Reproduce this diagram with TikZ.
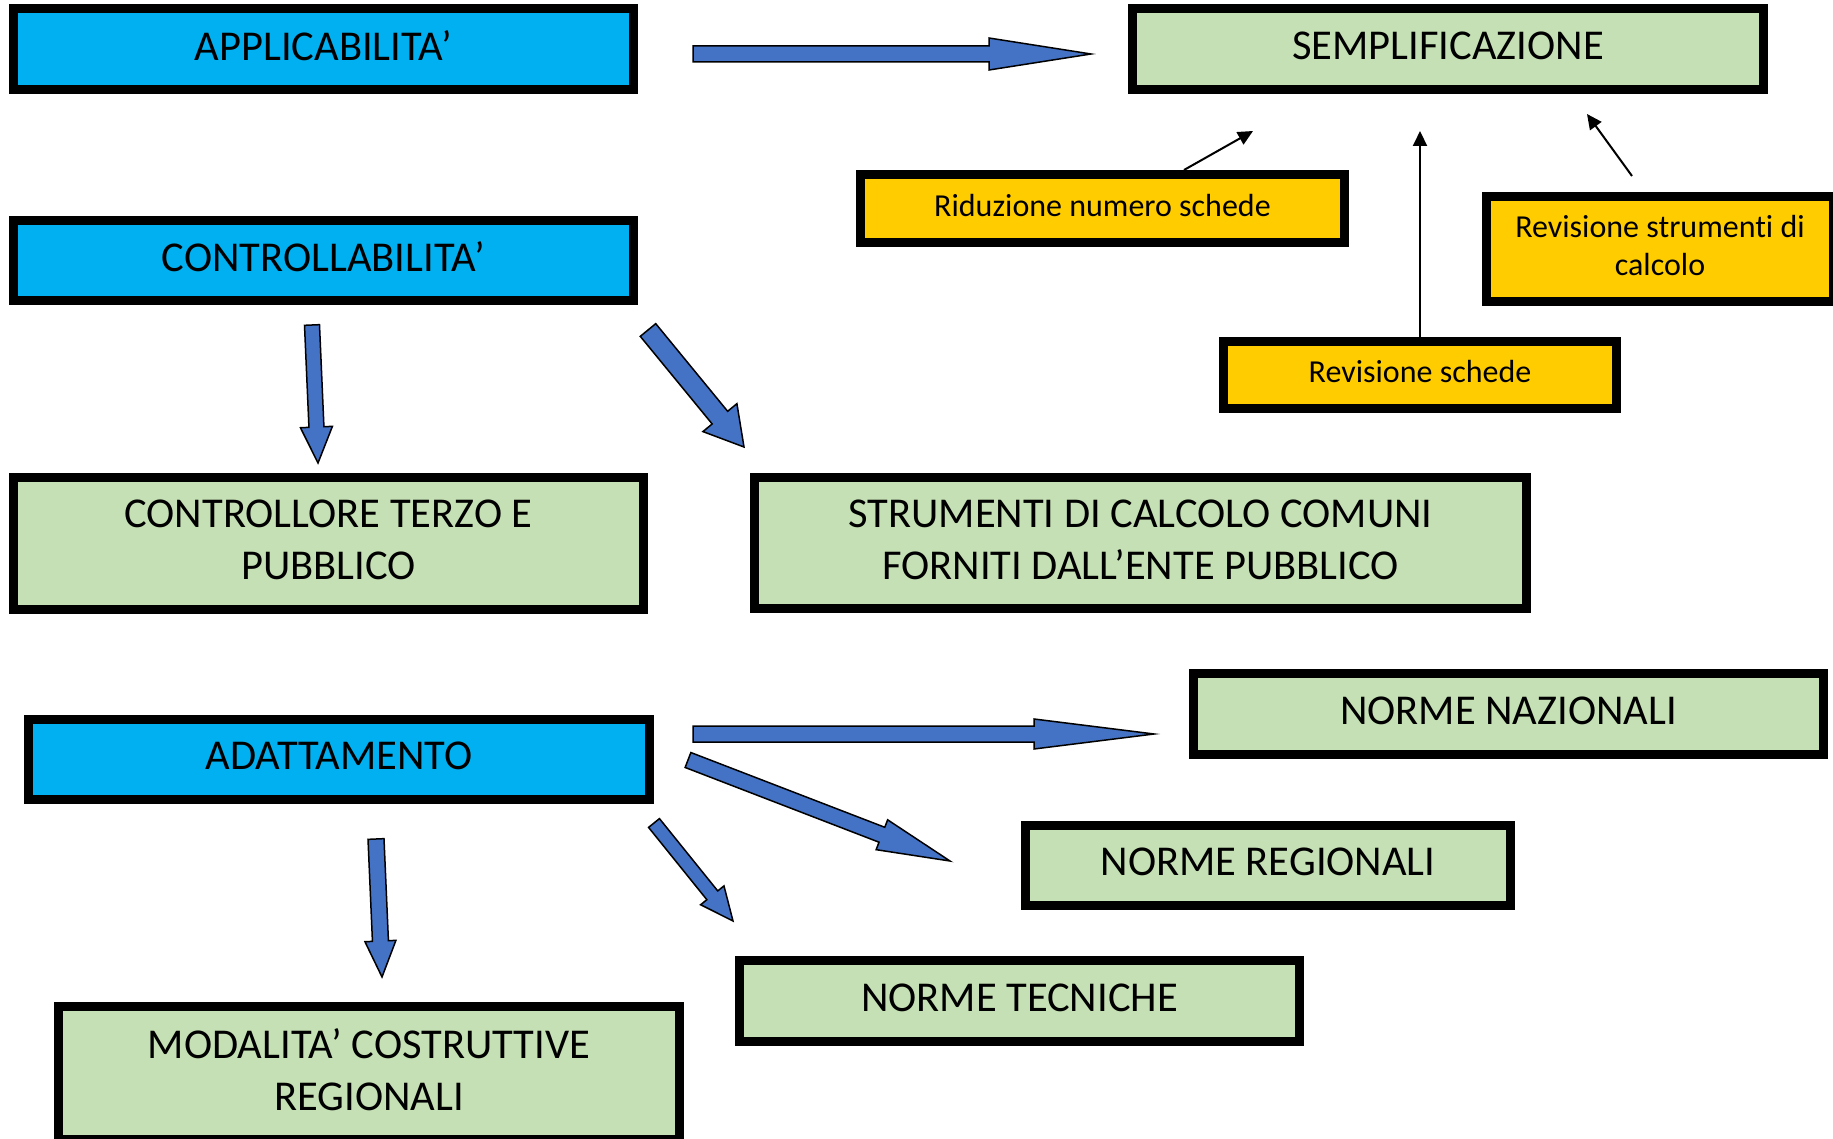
\documentclass[tikz,border=0pt]{standalone}
\usepackage{fontspec}
\setmainfont{Carlito}[Ligatures={NoCommon}]
\usepackage{tikz}
\usepackage{xcolor}
\usetikzlibrary{calc,arrows.meta}

\definecolor{boxblue}{HTML}{00B0F0}
\definecolor{boxgreen}{HTML}{C5E0B4}
\definecolor{boxyellow}{HTML}{FFCC00}
\definecolor{arrowblue}{HTML}{4472C4}

\newcommand{\boxfont}{\fontsize{42.5}{52}\selectfont}
\newcommand{\notefont}{\fontsize{32}{38}\selectfont}

% tail, tip, half shaft, half head, head length
\newcommand{\bigarrow}[5]{%
  \coordinate (hb) at ($(#2)!#5!(#1)$);
  \draw[bigarr] ($(#1)!#3!90:(#2)$) -- ($(hb)!#3!90:(#2)$) -- ($(hb)!#4!90:(#2)$) -- (#2)
    -- ($(hb)!#4!-90:(#2)$) -- ($(hb)!#3!-90:(#2)$) -- ($(#1)!#3!-90:(#2)$) -- cycle;
}

\begin{document}
\begin{tikzpicture}[x=1pt,y=-1pt]
        \tikzstyle{every node}=[draw,line width=9pt,inner sep=0pt,align=center,
            execute at end node={\rule[-7pt]{0pt}{7pt}}]
        \tikzstyle{bluebox}=[fill=boxblue,font=\boxfont]
        \tikzstyle{greenbox}=[fill=boxgreen,font=\boxfont]
        \tikzstyle{yellowbox}=[fill=boxyellow,font=\notefont]
        \tikzstyle{bigarr}=[fill=arrowblue,draw=black,line width=1.5pt]
        \tikzstyle{thinarr}=[draw=black,line width=2pt,-{Triangle[length=15pt,width=14pt]}]
            \useasboundingbox (0,0) rectangle (1833,1139);

            \node[bluebox,minimum width=620pt,minimum height=81pt] (appl) at (323.5,49) {APPLICABILITA’};
            \node[bluebox,minimum width=620pt,minimum height=80pt] (contr) at (323.5,260.5) {CONTROLLABILITA’};
            \node[bluebox,minimum width=621pt,minimum height=80pt] (adatt) at (339,759.5) {ADATTAMENTO};

            \node[greenbox,minimum width=631pt,minimum height=81pt] (sempl) at (1448,49) {SEMPLIFICAZIONE};
            \node[greenbox,minimum width=630pt,minimum height=132pt] (ctrl) at (328.5,543.5) {CONTROLLORE TERZO E\\PUBBLICO};
            \node[greenbox,minimum width=772pt,minimum height=131pt] (strum) at (1140.5,543) {STRUMENTI DI CALCOLO COMUNI\\FORNITI DALL’ENTE PUBBLICO};
            \node[greenbox,minimum width=630pt,minimum height=81pt] (naz) at (1508.5,714) {NORME NAZIONALI};
            \node[greenbox,minimum width=485pt,minimum height=80pt] (reg) at (1268,865.5) {NORME REGIONALI};
            \node[greenbox,minimum width=560pt,minimum height=81pt] (tecn) at (1019.5,1001) {NORME TECNICHE};
            \node[greenbox,minimum width=621pt,minimum height=133pt] (modal) at (369,1073) {MODALITA’ COSTRUTTIVE\\REGIONALI};

            \node[yellowbox,minimum width=484pt,minimum height=68pt] (ridu) at (1102.5,208.5) {Riduzione numero schede};
            \node[yellowbox,minimum width=393pt,minimum height=67pt] (revsch) at (1420,375) {Revisione schede};
            \node[yellowbox,minimum width=347pt,minimum height=105pt] (revstr) at (1660,249) {Revisione strumenti di\\calcolo};

            % block arrows
            \coordinate (a1s) at ($(appl.east)+(55,5)$);
            \coordinate (a1e) at ($(sempl.west)+(-37,5)$);
            \coordinate (a2s) at ($(contr.south)+(-11.5,20)$);
            \coordinate (a2e) at ($(ctrl.north)+(-10.5,-10)$);
            \coordinate (a3s) at ($(contr.south east)+(10,25)$);
            \coordinate (a3e) at ($(strum.north west)+(-6,-26)$);
            \coordinate (a4s) at ($(adatt.east)+(39,-25.5)$);
            \coordinate (a4e) at ($(naz.west)+(-35,20)$);
            \coordinate (a5s) at ($(adatt.east)+(34,0.5)$);
            \coordinate (a5e) at ($(reg.west)+(-71,-4.5)$);
            \coordinate (a6s) at ($(adatt.south east)+(0,19)$);
            \coordinate (a6e) at ($(tecn.north west)+(-2,-35)$);
            \coordinate (a7s) at ($(adatt.south)+(37,35)$);
            \coordinate (a7e) at ($(modal.north)+(13,-25)$);

            \bigarrow{a1s}{a1e}{8pt}{16pt}{102pt}
            \bigarrow{a2s}{a2e}{7.5pt}{16pt}{36pt}
            \bigarrow{a3s}{a3e}{10pt}{22pt}{38pt}
            \bigarrow{a4s}{a4e}{8pt}{15pt}{120pt}
            \bigarrow{a5s}{a5e}{8pt}{16pt}{73pt}
            \bigarrow{a6s}{a6e}{7pt}{15pt}{33pt}
            \bigarrow{a7s}{a7e}{8pt}{15.5pt}{36pt}

            % thin arrows to SEMPLIFICAZIONE
            \coordinate (t1e) at ($(sempl.south)+(-195,37)$);
            \coordinate (t2e) at ($(sempl.south)+(-28,37)$);
            \coordinate (t3s) at ($(revstr.north)+(-28,-16)$);
            \coordinate (t3e) at ($(sempl.south)+(139,20)$);

            \draw[thinarr] ($(ridu.north)+(81.5,0)$) -- (t1e);
            \draw[thinarr] (revsch.north) -- (t2e);
            \draw[thinarr] (t3s) -- (t3e);

        \end{tikzpicture}
\end{document}
